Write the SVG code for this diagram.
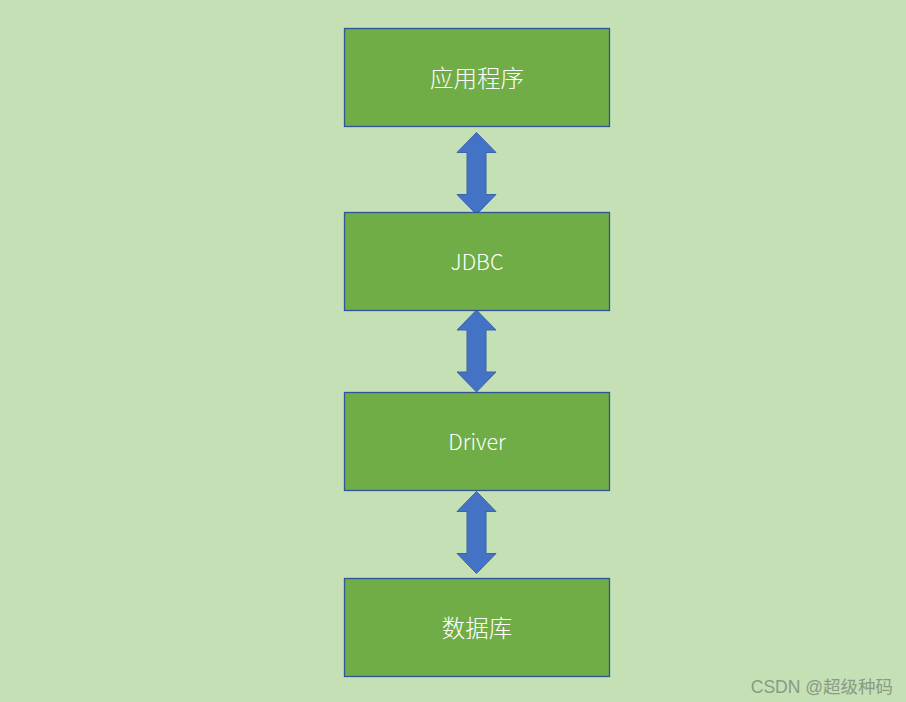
<svg xmlns="http://www.w3.org/2000/svg" width="906" height="702" viewBox="0 0 906 702">
<style>
.box{fill:#70AD47;stroke:#2F5597;stroke-width:1.3}
.lbl{fill:#ffffff;font-family:"Noto Sans CJK SC","Noto Sans",sans-serif;font-size:23.5px;font-weight:300;text-anchor:middle;dominant-baseline:central}
.lat{font-size:21.5px}
.arr{fill:#4472C4;stroke:#3A64AE;stroke-width:1}
.wm{fill:#8a9a86;font-family:"Liberation Sans","Noto Sans CJK SC",sans-serif;font-size:17.5px;text-anchor:end}
</style>
<defs>
<path id="dbl" d="M0,-41 L19.5,-21 L9.5,-21 L9.5,21 L19.5,21 L0,41 L-19.5,21 L-9.5,21 L-9.5,-21 L-19.5,-21 Z"/>
</defs>
<rect width="906" height="702" fill="#C5E0B4"/>
<g id="connectors">
<use href="#dbl" class="arr" transform="translate(476.5,173.5)"/>
<use href="#dbl" class="arr" transform="translate(476.5,351)"/>
<use href="#dbl" class="arr" transform="translate(476.5,532.5)"/>
</g>
<g id="app">
<rect class="box" x="344.5" y="28.5" width="265" height="98"/>
<text class="lbl" x="477" y="76.5">应用程序</text>
</g>
<g id="jdbc">
<rect class="box" x="344.5" y="212.5" width="265" height="98"/>
<text class="lbl lat" x="477" y="260.5">JDBC</text>
</g>
<g id="driver">
<rect class="box" x="344.5" y="392.5" width="265" height="98"/>
<text class="lbl lat" x="477" y="440.5">Driver</text>
</g>
<g id="db">
<rect class="box" x="344.5" y="578.5" width="265" height="98"/>
<text class="lbl" x="477" y="626.5">数据库</text>
</g>
<text class="wm" x="893" y="693">CSDN @超级种码</text>
</svg>
